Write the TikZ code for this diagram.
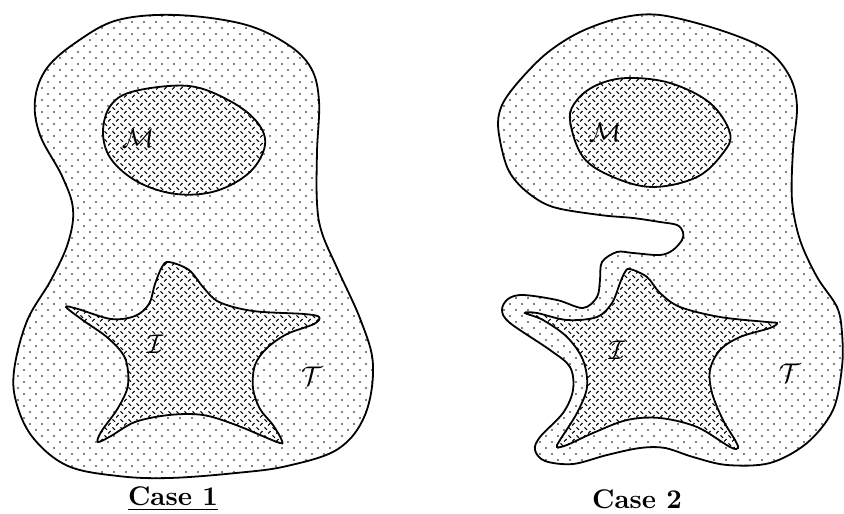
\documentclass[tikz,border=0pt]{standalone}
\usetikzlibrary{patterns}
\pgfdeclarepatternformonly{tdots}{\pgfqpoint{-2pt}{-2pt}}{\pgfqpoint{14pt}{14pt}}{\pgfqpoint{12pt}{12pt}}{%
  \pgfpathcircle{\pgfqpoint{0pt}{0pt}}{0.95pt}%
  \pgfpathcircle{\pgfqpoint{6pt}{6pt}}{0.95pt}%
  \pgfusepath{fill}}
\pgfdeclarepatternformonly{thatch}{\pgfqpoint{0pt}{0pt}}{\pgfqpoint{8pt}{8pt}}{\pgfqpoint{8pt}{8pt}}{%
  \pgfsetlinewidth{1.1pt}%
  \pgfpathmoveto{\pgfqpoint{0.6pt}{7.4pt}}\pgfpathlineto{\pgfqpoint{3.4pt}{4.6pt}}%
  \pgfpathmoveto{\pgfqpoint{4.6pt}{0.6pt}}\pgfpathlineto{\pgfqpoint{7.4pt}{3.4pt}}%
  \pgfusepath{stroke}}
\tikzset{
  outerreg/.style={draw=black,line width=1.8pt,pattern=tdots,pattern color=black},
  innerreg/.style={draw=black,line width=1.8pt,fill=white,postaction={pattern=thatch,pattern color=black}},
  letter/.style={scale=2.7,inner sep=0pt},
  caselab/.style={scale=2.7,inner sep=0pt,font=\bfseries}
}
\begin{document}
\begin{tikzpicture}[x=1pt,y=-1pt]
\useasboundingbox (0,0) rectangle (844,514);
% ---------- Case 1 ----------
\path[outerreg] plot[smooth cycle,tension=0.6] coordinates{
 (176,15) (243,24) (287,44) (311,68) (319,101) (317,152) (317,203) (322,233)
 (338,270) (361,321) (373,365) (365,415) (338,449) (287,466) (236,473)
 (169,478) (118,476) (68,466) (34,439) (17,405) (14,371) (27,321) (51,280)
 (68,243) (73,209) (62,176) (40,135) (35,100) (47,68) (78,41) (118,20)};
\path[innerreg] plot[smooth cycle,tension=0.6] coordinates{
 (103,132) (111,105) (135,91) (189,86) (230,101) (257,122) (265,145)
 (250,172) (216,191) (176,194) (138,182) (111,159)};
\path[innerreg] plot[smooth cycle,tension=0.55] coordinates{
 (169,262) (189,270) (203,287) (219,302) (253,311) (304,314) (319,317)
 (314,324) (287,334) (267,348) (255,365) (253,388) (260,409) (273,425)
 (282,441) (277,442) (236,425) (203,415) (169,415) (135,422) (111,436)
 (98,442) (101,432) (118,408) (128,385) (125,358) (108,338) (84,321)
 (66,307) (78,309) (111,319) (135,316) (149,304) (155,284) (162,267)};
\node[letter] (M1) at (138,138) {$\mathcal{M}$};
\node[letter] (I1) at (155,344) {$\mathcal{I}$};
\node[letter] (T1) at (312,376) {$\mathcal{T}$};
\node[caselab] (C1) at (173,499) {\underline{Case 1}};
% ---------- Case 2 ----------
\path[outerreg] plot[smooth cycle,tension=0.55] coordinates{
 (660,15) (720,30) (767,50) (790,77) (797,107) (793,150) (792,200) (800,240)
 (817,277) (837,307) (842,333) (842,367) (833,410) (807,443) (770,463)
 (727,465) (693,457) (665,448) (640,448) (607,455) (573,464) (545,461)
 (535,450) (540,437) (563,413) (573,390) (570,367) (550,350) (510,323)
 (502,310) (508,299) (523,295) (557,300) (583,308) (597,297) (600,280)
 (602,262) (617,252) (633,253) (660,255) (673,250) (682,240) (683,232)
 (677,225) (660,222) (633,218) (600,215) (553,207) (527,192) (510,173)
 (502,150) (498,123) (503,103) (520,80) (547,53) (580,32) (620,18)};
\path[innerreg] plot[smooth cycle,tension=0.6] coordinates{
 (570,120) (577,100) (597,85) (627,78) (670,83) (710,103) (730,133)
 (723,153) (697,177) (653,187) (613,177) (583,157)};
\path[innerreg] plot[smooth cycle,tension=0.55] coordinates{
 (630,269) (647,277) (660,293) (680,307) (720,317) (767,322) (777,323)
 (770,328) (740,337) (720,350) (710,370) (712,393) (723,420) (735,440)
 (738,448) (730,447) (697,427) (660,418) (627,420) (593,433) (567,445)
 (557,447) (560,440) (577,413) (587,387) (583,360) (567,337) (543,320)
 (525,313) (537,313) (567,320) (597,317) (612,303) (620,283) (625,272)};
\node[letter] (M2) at (605,132) {$\mathcal{M}$};
\node[letter] (I2) at (617,350) {$\mathcal{I}$};
\node[letter] (T2) at (790,373) {$\mathcal{T}$};
\node[caselab] (C2) at (637,499) {Case 2};
\end{tikzpicture}
\end{document}
